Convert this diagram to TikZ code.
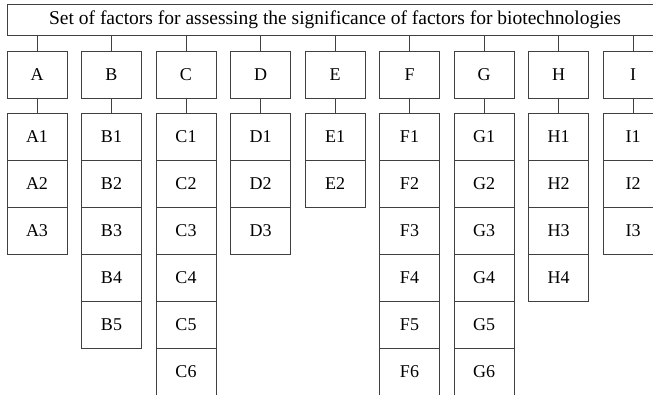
\documentclass[tikz,border=0pt]{standalone}
\usepackage{fontspec}
\setmainfont{Liberation Serif}
\usetikzlibrary{positioning}

\begin{document}
\begin{tikzpicture}[x=1pt,y=-1pt,
  factor/.style={shape=rectangle,draw=black!75,line width=0.8pt,minimum width=60pt,minimum height=47pt,inner sep=0pt,font=\fontsize{18}{20}\selectfont},
  link/.style={draw=black!75,line width=0.8pt}]
\useasboundingbox (0,0) rectangle (653,396);
\clip (0,0) rectangle (653,394.6);

% Top row
\node [factor,minimum width=656pt,minimum height=31pt,font=\fontsize{19.5}{21}\selectfont] at (335,19.5) (set) {Set of factors for assessing the significance of factors for biotechnologies};

% Groups with their sub-factors stacked below
\foreach \g/\n [count=\i from 0] in {A/3,B/5,C/6,D/3,E/2,F/6,G/6,H/4,I/3} {
  \node [factor] at (37+74.5*\i,75) (\g) {\g};
  \foreach \k in {1,...,\n}
    \node [factor] at (37+74.5*\i,89.5+47*\k) (\g\k) {\g\k};
  \draw [link] (set.south -| \g) -- (\g);
  \draw [link] (\g) -- (\g1);
}

\end{tikzpicture}
\end{document}
